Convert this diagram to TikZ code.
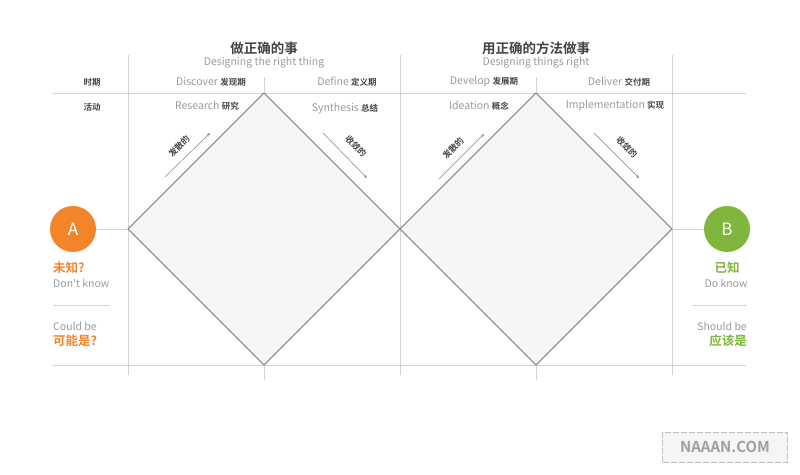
\documentclass[tikz,border=0pt]{standalone}
\usepackage{fontspec}
\setmainfont{Noto Sans CJK SC}[BoldFont={* Bold},Ligatures=TeXOff]
\definecolor{orangeA}{HTML}{F2852A}
\definecolor{greenB}{HTML}{80B53E}
\definecolor{txtgray}{HTML}{9A9A9A}
\definecolor{txtdark}{HTML}{444444}
\definecolor{linegray}{HTML}{D4D4D4}
\begin{document}
\begin{tikzpicture}[
		x=1pt,y=-1pt,
		every node/.append style={inner sep=0pt,align=center},
		grid/.style={draw=linegray,line width=0.8pt},
		dia/.style={draw=gray!85,fill=gray!7,line width=1.2pt,line join=miter},
		arr/.style={draw=gray,line width=0.5pt,-stealth},
		title/.style={font=\fontsize{13.5}{14}\selectfont\bfseries,text=txtdark},
		sub/.style={font=\fontsize{10.5}{12}\selectfont,text=txtgray},
		lab/.style={font=\fontsize{10.5}{12}\selectfont,text=txtgray},
		tag/.style={font=\fontsize{8.5}{10}\selectfont\bfseries,text=txtdark},
		circ/.style={circle,minimum size=46pt,text=white,font=\fontsize{17}{18}\selectfont}
	]
	\useasboundingbox (0,0) rectangle (800,474);
	% grid
	\draw[grid] (53,93) -- (746,93);
	\draw[grid] (53,365) -- (746,365);
	\draw[grid] (128,55) -- (128,375);
	\draw[grid] (400,55) -- (400,375);
	\draw[grid] (672,55) -- (672,375);
	\draw[grid] (264,77) -- (264,93);
	\draw[grid] (264,365) -- (264,380);
	\draw[grid] (536,77) -- (536,93);
	\draw[grid] (536,365) -- (536,380);
	\draw[grid] (53,305) -- (110,305);
	\draw[grid] (692,305) -- (747,305);
	% diamonds
	\coordinate (L) at (128,229);
	\coordinate (M) at (400,229);
	\coordinate (R) at (672,229);
	\draw[dia] (L) -- (264,93) -- (M) -- (264,365) -- cycle;
	\draw[dia] (M) -- (536,93) -- (R) -- (536,365) -- cycle;
	% start and end
	\node[circ,fill=orangeA] (A) at (73,229) {A};
	\node[circ,fill=greenB] (B) at (727,229) {B};
	\draw[grid] (A) -- (L);
	\draw[grid] (B) -- (R);
	% headers
	\node[title] (T1) at (264,48) {做正确的事};
	\node[sub] (S1) at (264,63) {Designing the right thing};
	\node[title] (T2) at (536,48) {用正确的方法做事};
	\node[sub] (S2) at (536,63) {Designing things right};
	\node[tag] (P) at (92,82) {时期};
	\node[tag] (Q) at (92,107) {活动};
	\node[lab] (P1) at (211,82) {Discover \textcolor{txtdark}{\fontsize{8.5}{10}\selectfont\bfseries 发现期}};
	\node[lab] (P2) at (347,82) {Define \textcolor{txtdark}{\fontsize{8.5}{10}\selectfont\bfseries 定义期}};
	\node[lab] (P3) at (484,82) {Develop \textcolor{txtdark}{\fontsize{8.5}{10}\selectfont\bfseries 发展期}};
	\node[lab] (P4) at (619,82) {Deliver \textcolor{txtdark}{\fontsize{8.5}{10}\selectfont\bfseries 交付期}};
	\node[lab] (Q1) at (207,106) {Research \textcolor{txtdark}{\fontsize{8.5}{10}\selectfont\bfseries 研究}};
	\node[lab] (Q2) at (345,109) {Synthesis \textcolor{txtdark}{\fontsize{8.5}{10}\selectfont\bfseries 总结}};
	\node[lab] (Q3) at (479,106) {Ideation \textcolor{txtdark}{\fontsize{8.5}{10}\selectfont\bfseries 概念}};
	\node[lab] (Q4) at (615,106) {Implementation \textcolor{txtdark}{\fontsize{8.5}{10}\selectfont\bfseries 实现}};
	% arrows
	\coordinate (a1) at (165,177);
	\coordinate (b1) at (210,133);
	\coordinate (a2) at (323,133);
	\coordinate (b2) at (367,178);
	\coordinate (a3) at (439,179);
	\coordinate (b3) at (484,134);
	\coordinate (a4) at (594,133);
	\coordinate (b4) at (639,178);
	\draw[arr] (a1) -- (b1);
	\draw[arr] (a2) -- (b2);
	\draw[arr] (a3) -- (b3);
	\draw[arr] (a4) -- (b4);
	\node[tag,rotate=45] (D1) at (179,146) {发散的};
	\node[tag,rotate=-45] (C1) at (356,146) {收敛的};
	\node[tag,rotate=45] (D2) at (453,148) {发散的};
	\node[tag,rotate=-45] (C2) at (627,147) {收敛的};
	% left side
	\node[anchor=west,font=\fontsize{12.5}{14}\selectfont\bfseries,text=orangeA] (A1) at (53,268) {未知?};
	\node[anchor=west,lab] (A2) at (53,283) {Don't know};
	\node[anchor=west,lab] (A3) at (53,326) {Could be};
	\node[anchor=west,font=\fontsize{12.5}{14}\selectfont\bfseries,text=orangeA] (A4) at (53,341) {可能是?};
	% right side
	\node[font=\fontsize{12.5}{14}\selectfont\bfseries,text=greenB] (B1) at (727,268) {已知};
	\node[lab] (B2) at (726,283) {Do know};
	\node[anchor=east,lab] (B3) at (747,326) {Should be};
	\node[anchor=east,font=\fontsize{12.5}{14}\selectfont\bfseries,text=greenB] (B4) at (747,341) {应该是};
	% watermark
	\node[draw=gray!50,dash pattern=on 6pt off 2pt,fill=gray!8,minimum width=125pt,minimum height=30pt,font=\fontsize{15}{16}\selectfont\bfseries,text=gray!75] (W) at (725,447) {NAAAN.COM};
\end{tikzpicture}
\end{document}
